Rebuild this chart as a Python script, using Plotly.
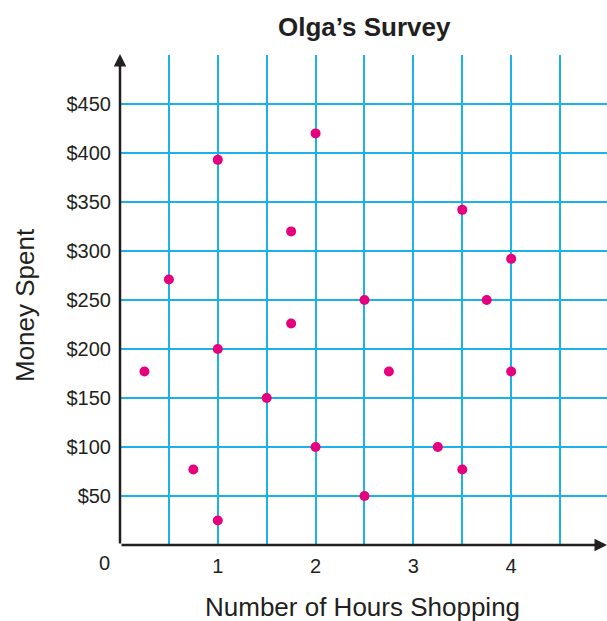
import plotly.graph_objects as go

hours = [0.25, 0.5, 0.75, 1, 1, 1, 1.5, 1.75, 1.75, 2, 2, 2.5, 2.5, 2.75, 3.25, 3.5, 3.5, 3.75, 4, 4]
money = [177, 271, 77, 393, 200, 25, 150, 320, 226, 420, 100, 250, 50, 177, 100, 342, 77, 250, 292, 177]

x_ticks = [0.5, 1, 1.5, 2, 2.5, 3, 3.5, 4, 4.5]
x_labels = ["", "1", "", "2", "", "3", "", "4", ""]
y_ticks = [50, 100, 150, 200, 250, 300, 350, 400, 450, 500]
y_labels = ["$50", "$100", "$150", "$200", "$250", "$300", "$350", "$400", "$450", ""]

INK = "#231F20"
GRID = "#1AB2E8"
DOT = "#E6007E"
FONT = "Liberation Sans, Arial, sans-serif"

L, R, T, B = 120, 0, 55, 76
W, H = 607, 621
PW, PH = W - L - R, H - T - B


def px_x(px):
    return (px - L) / PW


def px_y(py):
    return (H - B - py) / PH


fig = go.Figure()
fig.add_trace(go.Scatter(x=hours, y=money, mode="markers",
                         marker=dict(color=DOT, size=10, line=dict(width=0)),
                         hoverinfo="x+y", showlegend=False))

fig.update_layout(
    width=W, height=H,
    margin=dict(l=L, r=R, t=T, b=B, autoexpand=False),
    paper_bgcolor="white", plot_bgcolor="white",
    font=dict(family=FONT, color=INK, size=20),
    xaxis=dict(range=[0, 4.98], tickvals=x_ticks, ticktext=x_labels, automargin=False,
               showgrid=True, gridcolor=GRID, gridwidth=1.5, zeroline=False,
               showline=False, ticks="", ticklabelstandoff=7,
               tickfont=dict(size=20, color=INK)),
    yaxis=dict(range=[0, 500], tickvals=y_ticks, ticktext=y_labels, automargin=False,
               showgrid=True, gridcolor=GRID, gridwidth=1.5, zeroline=False,
               showline=False, ticks="", ticklabelstandoff=8,
               tickfont=dict(size=20, color=INK)),
)

# titles
fig.add_annotation(x=px_x(364), y=px_y(27), xref="paper", yref="paper", showarrow=False,
                   text="<b>Olga’s Survey</b>", font=dict(size=26, color=INK),
                   xanchor="center", yanchor="middle")
fig.add_annotation(x=px_x(362), y=px_y(607), xref="paper", yref="paper", showarrow=False,
                   text="Number of Hours Shopping", font=dict(size=26, color=INK),
                   xanchor="center", yanchor="middle")
fig.add_annotation(x=px_x(25), y=px_y(305), xref="paper", yref="paper", showarrow=False,
                   text="Money Spent", textangle=-90, font=dict(size=26, color=INK),
                   xanchor="center", yanchor="middle")

# axes with arrowheads
fig.add_annotation(x=0, y=501, ax=0, ay=0, xref="x", yref="y", axref="x", ayref="y",
                   showarrow=True, arrowhead=2, arrowsize=1, arrowwidth=2.5, arrowcolor=INK, text="")
fig.add_annotation(x=4.98, y=0, ax=0, ay=0, xref="x", yref="y", axref="x", ayref="y",
                   showarrow=True, arrowhead=2, arrowsize=1, arrowwidth=2.5, arrowcolor=INK, text="")
fig.add_annotation(x=0, y=0, xref="x", yref="y", text="0", showarrow=False,
                   xshift=-16, yshift=-18, font=dict(size=20, color=INK))

fig.write_html("out.html", config={"displayModeBar": False},
               post_script="document.body.style.margin='0';document.body.style.overflow='hidden';")
